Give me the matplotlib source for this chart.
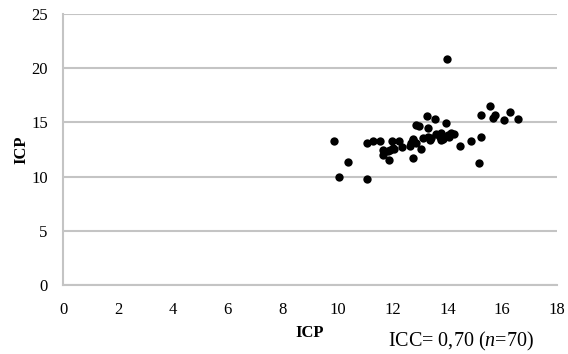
import matplotlib
matplotlib.use("Agg")
import matplotlib.pyplot as plt

plt.rcParams["font.family"] = ["Liberation Serif", "DejaVu Serif"]
plt.rcParams["mathtext.fontset"] = "custom"
plt.rcParams["mathtext.rm"] = "Liberation Serif"
plt.rcParams["mathtext.it"] = "Liberation Serif:italic"

# Paired ICP measurements (first vs second assessment)
icp_x = [13.98, 9.87, 10.06, 10.39, 11.08, 11.08, 11.28, 11.55, 11.98, 12.25,
         11.67, 11.67, 11.83, 11.87, 12.07, 12.35, 12.65, 12.76, 12.76, 12.86,
         12.95, 13.04, 13.10, 13.25, 13.29, 13.29, 13.38, 13.55, 13.73, 13.77,
         13.77, 13.95, 14.01, 14.13, 14.25, 14.45, 14.87, 15.15, 15.24, 15.24,
         15.56, 15.66, 15.75, 16.08, 16.27, 16.56, 11.90, 12.03, 12.74, 12.68,
         12.86, 13.40, 13.85, 13.60, 14.05]
icp_y = [20.85, 13.31, 9.93, 11.35, 9.81, 13.13, 13.28, 13.31, 13.31, 13.31,
         12.45, 11.99, 12.36, 11.53, 12.55, 12.76, 12.82, 11.75, 13.47, 13.13,
         14.70, 12.58, 13.53, 15.59, 14.45, 13.62, 13.38, 15.34, 13.68, 13.38,
         14.05, 14.97, 13.84, 14.05, 13.90, 12.79, 13.31, 11.22, 13.62, 15.68,
         16.54, 15.43, 15.71, 15.19, 15.93, 15.34, 12.45, 12.61, 13.38, 13.07,
         14.76, 13.60, 13.50, 13.95, 13.70]

x_ticks = [0, 2, 4, 6, 8, 10, 12, 14, 16, 18]
y_ticks = [0, 5, 10, 15, 20, 25]

fig = plt.figure(figsize=(5.68, 3.54), dpi=100)
ax = fig.add_axes([0.111, 0.195, 0.870, 0.765])

grid_color = "#c4c4c4"
ax.scatter(icp_x, icp_y, s=36, color="black", zorder=3, linewidths=0)

ax.set_xlim(0, 18)
ax.set_ylim(0, 25)
ax.set_xticks(x_ticks)
ax.set_yticks(y_ticks)
ax.yaxis.grid(True, color=grid_color, linewidth=1.5)
ax.set_axisbelow(True)

for side in ("top", "right"):
    ax.spines[side].set_visible(False)
for side in ("left", "bottom"):
    ax.spines[side].set_color(grid_color)
    ax.spines[side].set_linewidth(1.5)

ax.tick_params(axis="both", length=0, labelsize=12)
ax.tick_params(axis="x", pad=12)
ax.tick_params(axis="y", pad=11)

ax.set_xlabel("ICP", fontweight="bold", fontsize=12, labelpad=5)
ax.set_ylabel("ICP", fontweight="bold", fontsize=12, labelpad=1)

fig.text(0.683, 0.02, r"ICC= 0,70 ($\mathit{n}$=70)", fontsize=14.5,
         ha="left", va="baseline")

fig.savefig("out.png", dpi=100, facecolor="white")
